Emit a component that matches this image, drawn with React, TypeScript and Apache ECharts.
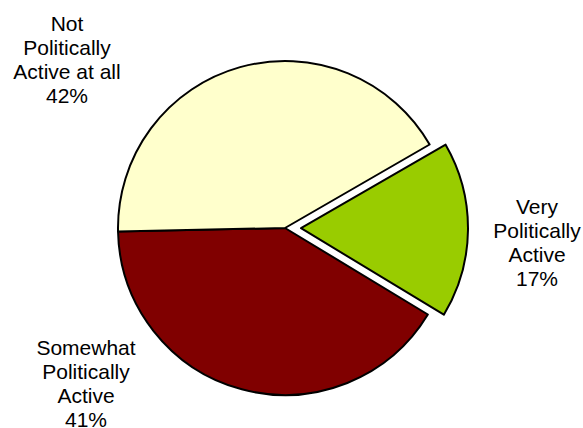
import React, { useEffect, useRef } from "react";
import * as echarts from "echarts";

// Data
const categories = [
  "Very\nPolitically\nActive",
  "Somewhat\nPolitically\nActive",
  "Not\nPolitically\nActive at all",
];
const values = [17, 41, 42];
const exploded = [true, false, false];

// Styles / layout
const colors = ["#99CC00", "#800000", "#FFFFCC"];
const labelAnchors: [number, number][] = [
  [537, 242],
  [86, 383],
  [67, 59],
];

export default function App() {
  const ref = useRef<HTMLDivElement>(null);

  useEffect(() => {
    if (!ref.current) return;
    const chart = echarts.init(ref.current, null, { renderer: "svg" });
    const total = values.reduce((a, b) => a + b, 0);
    chart.setOption({
      animation: false,
      backgroundColor: "#ffffff",
      graphic: values.map((v, i) => ({
        type: "text",
        x: labelAnchors[i][0],
        y: labelAnchors[i][1],
        silent: true,
        style: {
          text: `${categories[i]}\n${Math.round((v / total) * 100)}%`,
          fontFamily: "'Liberation Sans', Arial, sans-serif",
          fontSize: 21,
          lineHeight: 24,
          fill: "#000000",
          align: "center",
          verticalAlign: "middle",
        },
      })),
      series: [
        {
          type: "pie",
          center: [285, 228],
          radius: 167,
          startAngle: 30,
          clockwise: true,
          avoidLabelOverlap: false,
          selectedMode: "multiple",
          selectedOffset: 16,
          silent: true,
          emphasis: { disabled: true },
          itemStyle: { borderColor: "#000000", borderWidth: 2 },
          label: { show: false },
          labelLine: { show: false },
          data: values.map((v, i) => ({
            name: categories[i],
            value: v,
            selected: exploded[i],
            itemStyle: { color: colors[i] },
          })),
        },
      ],
    });
    return () => chart.dispose();
  }, []);

  return (
    <div
      ref={ref}
      style={{ position: "fixed", left: 0, top: 0, width: 583, height: 428, background: "#fff" }}
    />
  );
}
